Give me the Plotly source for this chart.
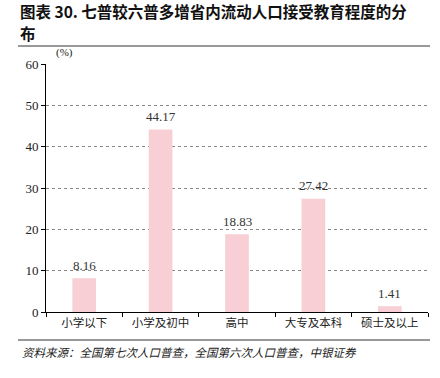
import plotly.graph_objects as go

categories = ["小学以下", "小学及初中", "高中", "大专及本科", "硕士及以上"]
values = [8.16, 44.17, 18.83, 27.42, 1.41]
value_labels = ["8.16", "44.17", "18.83", "27.42", "1.41"]
y_ticks = [0, 10, 20, 30, 40, 50, 60]

W, H = 440, 378
# target screen coordinates of plot area
X0, X1, Y0, Y1 = 46, 428, 64, 312
L, R, T, B = X0, W - X1, Y0, H - Y1
pw, ph = W - L - R, H - T - B

def px(x):
    return (x - L) / pw

def py(y):
    return (H - B - y) / ph

serif = "Liberation Serif, Noto Serif CJK SC, Noto Sans CJK SC, serif"
cjk = "Noto Sans CJK SC, sans-serif"

fig = go.Figure()
fig.add_trace(go.Bar(
    x=categories, y=values, width=0.31,
    marker=dict(color="#F7CFD4", line=dict(width=0)),
    cliponaxis=False,
))

value_annotations = [
    dict(text=lab, x=cat, y=val, xref="x", yref="y", yanchor="middle", yshift=13,
         showarrow=False, font=dict(family=serif, size=13, color="#333333"))
    for cat, val, lab in zip(categories, values, value_labels)
]

fig.update_layout(
    width=W, height=H,
    margin=dict(l=L, r=R, t=T, b=B),
    plot_bgcolor="white", paper_bgcolor="white",
    showlegend=False,
    xaxis=dict(
        showline=True, linecolor="#000000", linewidth=1,
        ticks="outside", tickson="boundaries", ticklen=4, tickcolor="#000000",
        tickfont=dict(family=cjk, size=11.5, color="#222222"),
        showgrid=False,
    ),
    yaxis=dict(
        range=[0, 60], tickvals=y_ticks,
        showline=True, linecolor="#000000", linewidth=1,
        ticks="outside", ticklen=4, tickcolor="#000000",
        tickfont=dict(family=serif, size=13, color="#222222"),
        showgrid=True, gridcolor="#888888", griddash="dot", gridwidth=1,
        zeroline=False,
    ),
    annotations=value_annotations + [
        dict(text="<b>图表 30. 七普较六普多增省内流动人口接受教育程度的分</b>", x=px(18), y=py(11),
             xref="paper", yref="paper", xanchor="left", yanchor="middle", showarrow=False,
             font=dict(family=cjk, size=15.5, color="#111111")),
        dict(text="<b>布</b>", x=px(18), y=py(33),
             xref="paper", yref="paper", xanchor="left", yanchor="middle", showarrow=False,
             font=dict(family=cjk, size=15.5, color="#111111")),
        dict(text="(%)", x=px(54), y=py(53),
             xref="paper", yref="paper", xanchor="left", yanchor="middle", showarrow=False,
             font=dict(family=serif, size=11, color="#222222")),
        dict(text="<i>资料来源：全国第七次人口普查，全国第六次人口普查，中银证券</i>", x=px(20), y=py(352),
             xref="paper", yref="paper", xanchor="left", yanchor="middle", showarrow=False,
             font=dict(family=cjk, size=11.5, color="#222222")),
    ],
    shapes=[
        dict(type="line", xref="paper", yref="paper", x0=px(18), x1=px(430), y0=py(46), y1=py(46),
             line=dict(color="#333333", width=1)),
        dict(type="line", xref="paper", yref="paper", x0=px(18), x1=px(430), y0=py(340), y1=py(340),
             line=dict(color="#333333", width=1)),
    ],
)

fig.write_html("out.html", config={"displayModeBar": False},
               post_script="document.body.style.margin='0';")
